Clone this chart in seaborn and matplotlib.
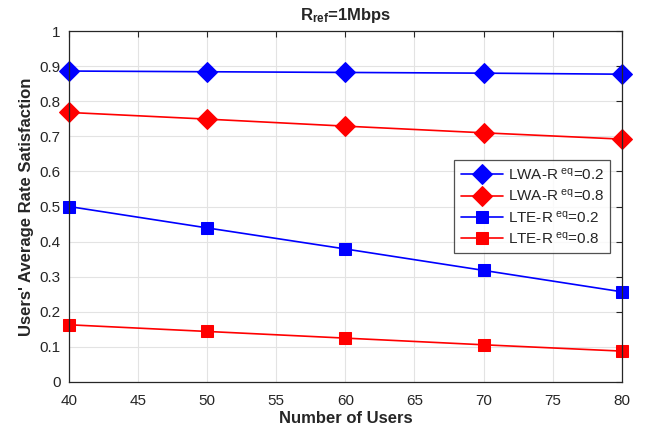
import pandas as pd
import seaborn as sns
import matplotlib.pyplot as plt

users = [40, 50, 60, 70, 80]
lwa_02 = [0.886, 0.884, 0.882, 0.880, 0.877]
lwa_08 = [0.768, 0.749, 0.729, 0.710, 0.692]
lte_02 = [0.500, 0.439, 0.379, 0.318, 0.257]
lte_08 = [0.163, 0.144, 0.125, 0.106, 0.088]
labels = ['LWA-R$^{\\ eq}$=0.2', 'LWA-R$^{\\ eq}$=0.8', 'LTE-R$^{\\ eq}$=0.2', 'LTE-R$^{\\ eq}$=0.8']

sns.set_style('white')
plt.rcParams['font.family'] = ['Liberation Sans', 'DejaVu Sans']
plt.rcParams['mathtext.fontset'] = 'custom'
plt.rcParams['mathtext.rm'] = 'Liberation Sans'
plt.rcParams['mathtext.bf'] = 'Liberation Sans:bold'
plt.rcParams['mathtext.default'] = 'regular'

fig = plt.figure(figsize=(6.45, 4.28), dpi=100)
ax = fig.add_axes([0.107, 0.1075, 0.857, 0.82])

series = [lwa_02, lwa_08, lte_02, lte_08]
colors = ['#0000ff', '#ff0000', '#0000ff', '#ff0000']
markers = ['D', 'D', 's', 's']
sizes = [10, 10, 8, 8]
for vals, lab, c, m, ms in zip(series, labels, colors, markers, sizes):
    df = pd.DataFrame({'users': users, 'val': vals})
    sns.lineplot(data=df, x='users', y='val', color=c, marker=m, ms=ms,
                 markeredgecolor=c, linewidth=1.2, label=lab, ax=ax, clip_on=False)

ax.set_xlim(40, 80)
ax.set_ylim(0, 1)
ax.set_xticks(range(40, 81, 5))
ax.set_yticks([i / 10 for i in range(11)])
ax.set_yticklabels(['0', '0.1', '0.2', '0.3', '0.4', '0.5', '0.6', '0.7', '0.8', '0.9', '1'])
ax.grid(True, color='#e3e3e3', linewidth=0.8)
ax.set_axisbelow(True)
for s in ax.spines.values():
    s.set_color('#262626')
    s.set_linewidth(0.9)
ax.tick_params(direction='in', length=4, labelsize=11, colors='#262626', top=True, right=True,
               labelcolor='#262626')
ax.tick_params(axis='x', pad=9)
ax.tick_params(axis='y', pad=6)
ax.set_xlabel('Number of Users', fontsize=12, fontweight='bold', labelpad=2)
ax.set_ylabel("Users' Average Rate Satisfaction", fontsize=12, fontweight='bold')
ax.set_title(r'R$\mathbf{_{ref}}$=1Mbps', fontsize=12, fontweight='bold', pad=8)

leg = ax.legend(loc='upper right', bbox_to_anchor=(0.985, 0.64), fontsize=11,
                frameon=True, fancybox=False, handlelength=2.8, borderpad=0.4,
                labelspacing=0.35, handletextpad=0.3, borderaxespad=0.2)
leg.get_frame().set_edgecolor('#262626')
leg.get_frame().set_linewidth(0.9)

plt.savefig('out.png', dpi=100)
